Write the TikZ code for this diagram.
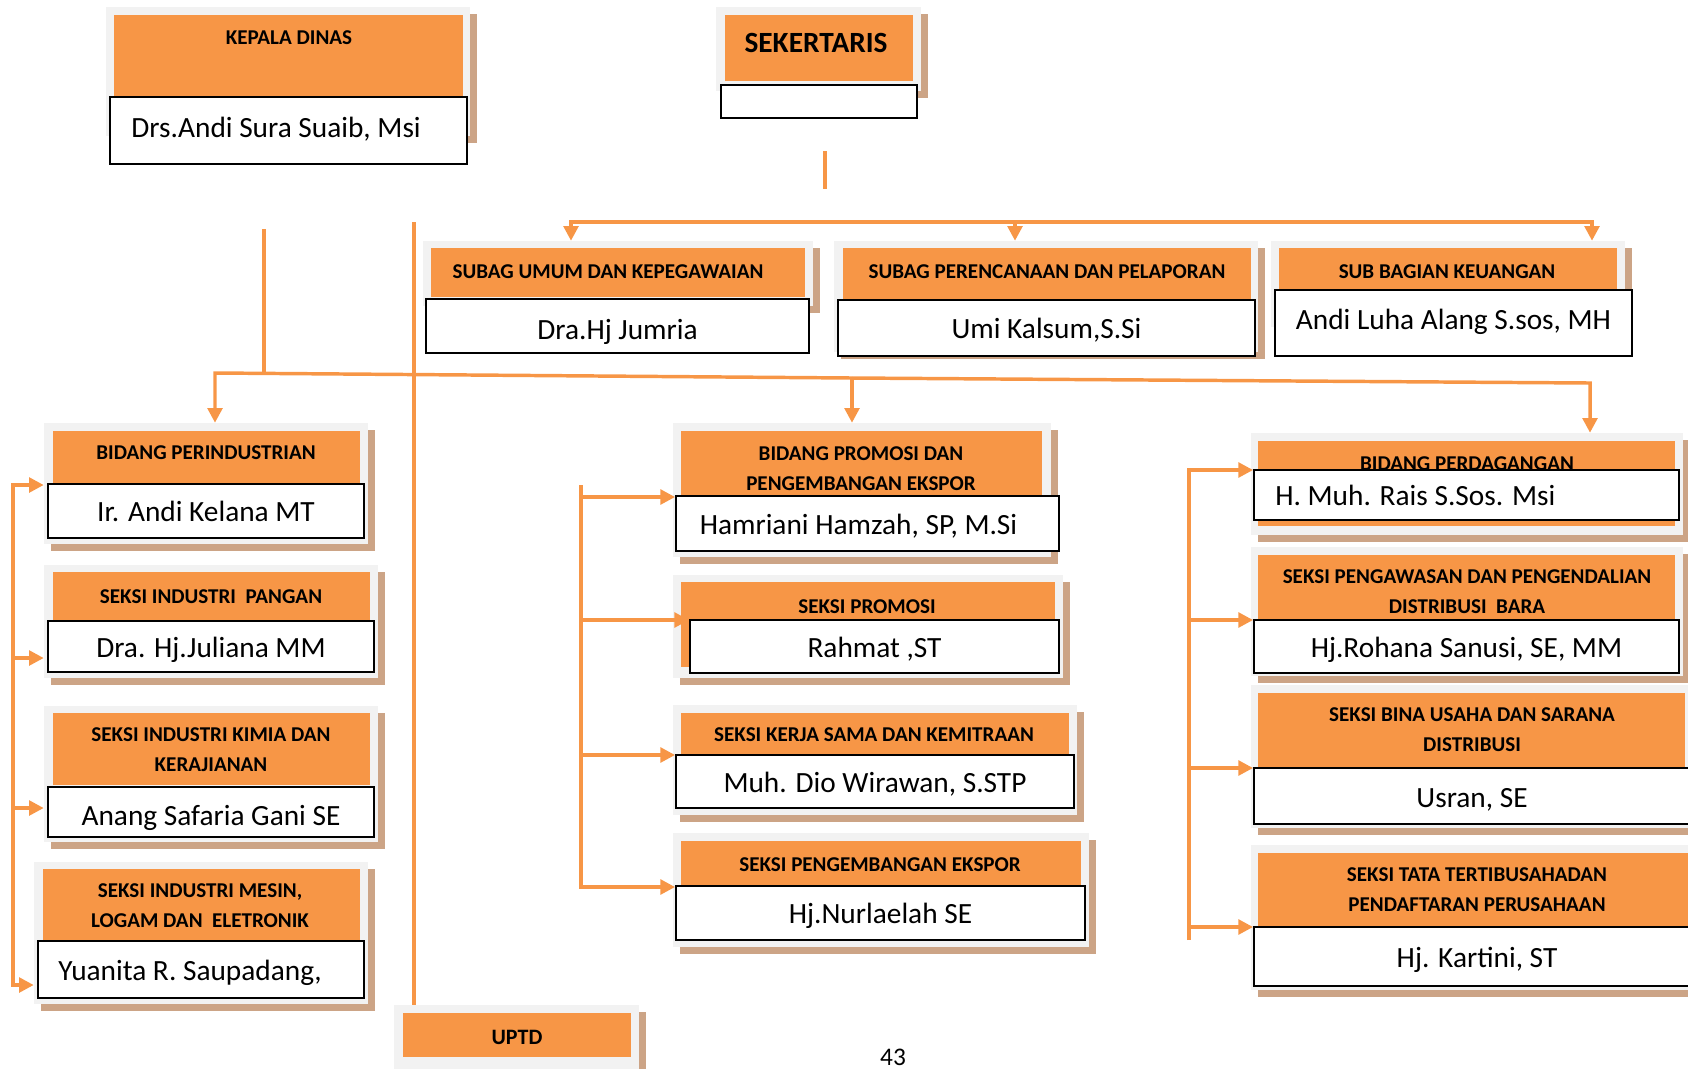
\documentclass[tikz,border=0pt]{standalone}
\usepackage{fontspec}
\setmainfont{Carlito}
\usetikzlibrary{arrows.meta,fit,shadows}

\definecolor{jingga}{HTML}{F79646}
\definecolor{abu}{HTML}{F2F2F2}
\definecolor{bayang}{RGB}{204,164,134}

\tikzset{
  kartu/.style  = {rectangle, fill=abu, inner sep=0pt,
                   drop shadow={shadow xshift=5pt, shadow yshift=-5pt,
                                opacity=1, fill=bayang}},
  oranye/.style = {rectangle, fill=jingga, inner sep=0pt},
  nama/.style   = {rectangle, draw=black, line width=1.4pt, fill=white,
                   inner sep=0pt},
  teks/.style   = {inner sep=0pt, font=\fontsize{22}{26}\selectfont,
                   text height=18pt, text depth=2pt},
  judul/.style  = {align=center, inner sep=0pt,
                   font=\bfseries\fontsize{15.8}{22.5}\selectfont},
  garis/.style  = {draw=jingga, line width=2.6pt},
  panah/.style  = {garis, -{Triangle[length=11pt, width=11pt]}}
}

\begin{document}
\begin{tikzpicture}[x=0.75pt, y=-0.75pt]
  \useasboundingbox (0,0) rectangle (1688,1068);

  \node [kartu,  fit={(106,7) (470,136)}]  (k-kd) {};
  \node [oranye, fit={(114,15) (463,100)}] (o-kd) {};
  \node [judul] (j-kd) at (289,38) {KEPALA DINAS};
  \node [nama, fit={(110,97) (467,164)}] (n-kd) {};
  \node [teks, anchor=west] (t-kd) at ([xshift=16.5pt, yshift=3pt]n-kd.west) {Drs.Andi Sura Suaib, Msi};

  \node [kartu,  fit={(716,7) (921,91)}]  (k-sek) {};
  \node [oranye, fit={(725,15) (913,81)}] (o-sek) {};
  \node [judul, font=\bfseries\fontsize{22}{26}\selectfont] (j-sek) at (816,43) {SEKERTARIS};
  \node [nama, fit={(721,85) (917,118)}] (n-sek) {};

  \node [kartu,  fit={(423,241) (813,306)}] (k-sum) {};
  \node [oranye, fit={(431,248) (805,297)}] (o-sum) {};
  \node [judul] (j-sum) at (608,272) {SUBAG UMUM DAN KEPEGAWAIAN};
  \node [nama, fit={(426,299) (809,353)}] (n-sum) {};
  \node [teks] (t-sum) at ([yshift=-2pt]n-sum.center) {Dra.Hj Jumria};

  \node [kartu,  fit={(834,241) (1258,352)}] (k-spp) {};
  \node [oranye, fit={(843,248) (1251,300)}] (o-spp) {};
  \node [judul] (j-spp) at (1047,272) {SUBAG PERENCANAAN DAN PELAPORAN};
  \node [nama, fit={(838,300) (1255,356)}] (n-spp) {};
  \node [teks] (t-spp) at (n-spp) {Umi Kalsum,S.Si};

  \node [kartu,  fit={(1271,241) (1625,327)}] (k-sku) {};
  \node [oranye, fit={(1279,248) (1617,300)}] (o-sku) {};
  \node [judul] (j-sku) at (1447,272) {SUB BAGIAN KEUANGAN};
  \node [nama, fit={(1275,290) (1632,356)}] (n-sku) {};
  \node [teks] (t-sku) at ([yshift=3pt]n-sku.center) {Andi Luha Alang S.sos, MH};

  \node [kartu,  fit={(44,423) (368,544)}] (k-bpi) {};
  \node [oranye, fit={(53,431) (360,483)}] (o-bpi) {};
  \node [judul] (j-bpi) at (206,453) {BIDANG PERINDUSTRIAN};
  \node [nama, fit={(48,484) (364,538)}] (n-bpi) {};
  \node [teks] (t-bpi) at (n-bpi) {Ir. Andi Kelana MT};

  \node [kartu,  fit={(44,565) (378,678)}] (k-sip) {};
  \node [oranye, fit={(53,572) (370,620)}] (o-sip) {};
  \node [judul] (j-sip) at (211,597) {SEKSI INDUSTRI~ PANGAN};
  \node [nama, fit={(48,621) (374,672)}] (n-sip) {};
  \node [teks] (t-sip) at (n-sip) {Dra. Hj.Juliana MM};

  \node [kartu,  fit={(44,706) (378,842)}] (k-sik) {};
  \node [oranye, fit={(53,713) (370,785)}] (o-sik) {};
  \node [judul] (j-sik) at (211,750) {SEKSI INDUSTRI KIMIA DAN\\KERAJIANAN};
  \node [nama, fit={(48,787) (374,837)}] (n-sik) {};
  \node [teks] (t-sik) at ([yshift=-2pt]n-sik.center) {Anang Safaria Gani SE};

  \node [kartu,  fit={(34,862) (368,1004)}] (k-sim) {};
  \node [oranye, fit={(43,869) (360,940)}]  (o-sim) {};
  \node [judul] (j-sim) at (200,906) {SEKSI INDUSTRI MESIN,\\LOGAM DAN~ ELETRONIK};
  \node [nama, fit={(38,941) (364,998)}] (n-sim) {};
  \node [teks, anchor=west] (t-sim) at ([xshift=15.75pt]n-sim.west) {Yuanita R. Saupadang,};

  \node [kartu,  fit={(394,1005) (639,1090)}] (k-uptd) {};
  \node [oranye, fit={(403,1013) (631,1057)}] (o-uptd) {};
  \node [judul, font=\bfseries\fontsize{16.5}{20}\selectfont] (j-uptd) at (517,1037) {UPTD};

  \node [kartu,  fit={(673,423) (1051,557)}] (k-bpp) {};
  \node [oranye, fit={(681,431) (1042,497)}] (o-bpp) {};
  \node [judul] (j-bpp) at (861,469) {BIDANG PROMOSI DAN\\PENGEMBANGAN EKSPOR};
  \node [nama, fit={(676,496) (1059,551)}] (n-bpp) {};
  \node [teks] (t-bpp) at ([xshift=-6.75pt]n-bpp.center) {Hamriani Hamzah, SP, M.Si};

  \node [kartu,  fit={(673,575) (1063,678)}] (k-spr) {};
  \node [oranye, fit={(681,582) (1055,667)}] (o-spr) {};
  \node [judul] (j-spr) at (867,607) {SEKSI PROMOSI};
  \node [nama, fit={(690,620) (1059,673)}] (n-spr) {};
  \node [teks] (t-spr) at (n-spr) {Rahmat ,ST};

  \node [kartu,  fit={(673,705) (1077,815)}] (k-skk) {};
  \node [oranye, fit={(681,713) (1069,755)}] (o-skk) {};
  \node [judul] (j-skk) at (874,735) {SEKSI KERJA SAMA DAN KEMITRAAN};
  \node [nama, fit={(676,755) (1074,808)}] (n-skk) {};
  \node [teks] (t-skk) at (n-skk) {Muh. Dio Wirawan, S.STP};

  \node [kartu,  fit={(673,833) (1089,947)}] (k-spe) {};
  \node [oranye, fit={(681,841) (1081,886)}] (o-spe) {};
  \node [judul] (j-spe) at (880,865) {SEKSI PENGEMBANGAN EKSPOR};
  \node [nama, fit={(676,886) (1085,940)}] (n-spe) {};
  \node [teks] (t-spe) at (n-spe) {Hj.Nurlaelah SE};

  \node [kartu,  fit={(1251,433) (1683,535)}] (k-bpd) {};
  \node [oranye, fit={(1258,441) (1675,526)}] (o-bpd) {};
  \node [judul] (j-bpd) at (1467,464) {BIDANG PERDAGANGAN};
  \node [nama, fit={(1254,470) (1679,520)}] (n-bpd) {};
  \node [teks, anchor=west] (t-bpd) at ([xshift=16.5pt]n-bpd.west) {H. Muh. Rais S.Sos. Msi};

  \node [kartu,  fit={(1251,547) (1683,676)}] (k-spg) {};
  \node [oranye, fit={(1258,555) (1675,668)}] (o-spg) {};
  \node [judul] (j-spg) at (1467,592) {SEKSI PENGAWASAN DAN PENGENDALIAN\\DISTRIBUSI~ BARA};
  \node [nama, fit={(1254,620) (1679,673)}] (n-spg) {};
  \node [teks] (t-spg) at (n-spg) {Hj.Rohana Sanusi, SE, MM};

  \node [kartu,  fit={(1251,685) (1700,828)}] (k-sbu) {};
  \node [oranye, fit={(1258,693) (1685,767)}] (o-sbu) {};
  \node [judul] (j-sbu) at (1472,730) {SEKSI BINA USAHA DAN SARANA\\DISTRIBUSI};
  \node [nama, fit={(1254,768) (1700,824)}] (n-sbu) {};
  \node [teks] (t-sbu) at (1472,797) {Usran, SE};

  \node [kartu,  fit={(1251,845) (1700,990)}] (k-stt) {};
  \node [oranye, fit={(1258,853) (1690,926)}] (o-stt) {};
  \node [judul] (j-stt) at (1477,890) {SEKSI TATA TERTIBUSAHADAN\\PENDAFTARAN PERUSAHAAN};
  \node [nama, fit={(1254,927) (1700,986)}] (n-stt) {};
  \node [teks] (t-stt) at (1477,957) {Hj. Kartini, ST};

  \node [anchor=base, font=\fontsize{19}{22}\selectfont] (hal) at (893,1065) {43};

  \coordinate (sek a)       at (825,151);
  \coordinate (sek b)       at (825,189);
  \coordinate (atas kiri)   at (571,222);
  \coordinate (atas tengah) at (1015,222);
  \coordinate (atas kanan)  at (1592,222);
  \coordinate (tiang)       at (414,222);
  \coordinate (kd bawah)    at (264,229);
  \coordinate (bus kiri)    at (215,373);
  \coordinate (bus tengah)  at (852,378);
  \coordinate (bus kanan)   at (1590,383);
  \coordinate (kiri a)      at (13,485);
  \coordinate (kiri b)      at (13,658);
  \coordinate (kiri c)      at (13,808);
  \coordinate (kiri d)      at (13,985);
  \coordinate (tengah atas) at (581,485);
  \coordinate (tengah a)    at (581,497);
  \coordinate (tengah b)    at (581,620);
  \coordinate (tengah c)    at (581,755);
  \coordinate (tengah d)    at (581,887);
  \coordinate (kanan a)     at (1189,470);
  \coordinate (kanan b)     at (1189,620);
  \coordinate (kanan c)     at (1189,768);
  \coordinate (kanan d)     at (1189,927);
  \coordinate (kanan bawah) at (1189,940);

  \draw [garis] (sek a) -- (sek b);
  \draw [panah] (atas tengah) -- (atas kiri) -- (atas kiri |- k-sum.north);
  \draw [panah] (atas tengah) -- (atas kanan) -- (atas kanan |- k-sku.north);
  \draw [panah] (atas tengah) -- (atas tengah |- k-spp.north);
  \draw [garis] (tiang) -- (tiang |- k-uptd.north);

  \draw [garis] (kd bawah) -- (kd bawah |- bus kiri);
  \draw [panah] (bus tengah) -- (bus kiri) -- (bus kiri |- k-bpi.north);
  \draw [panah] (bus tengah) -- (bus kanan) -- (bus kanan |- k-bpd.north);
  \draw [panah] (bus tengah) -- (bus tengah |- k-bpp.north);

  \draw [panah] (kiri b) -- (kiri a) -- (kiri a -| k-bpi.west);
  \draw [panah] (kiri b) -- (kiri b -| k-sip.west);
  \draw [panah] (kiri c) -- (kiri c -| k-sik.west);
  \draw [panah] (kiri b) -- (kiri d) -- (kiri d -| k-sim.west);

  \draw [panah] (tengah atas) -- (tengah d) -- (tengah d -| n-spe.west);
  \draw [panah] (tengah a) -- (tengah a -| n-bpp.west);
  \draw [panah] (tengah b) -- (tengah b -| n-spr.west);
  \draw [panah] (tengah c) -- (tengah c -| n-skk.west);

  \draw [panah] (kanan bawah) -- (kanan a) -- (kanan a -| n-bpd.west);
  \draw [panah] (kanan b) -- (kanan b -| n-spg.west);
  \draw [panah] (kanan c) -- (kanan c -| n-sbu.west);
  \draw [panah] (kanan d) -- (kanan d -| n-stt.west);
\end{tikzpicture}
\end{document}
